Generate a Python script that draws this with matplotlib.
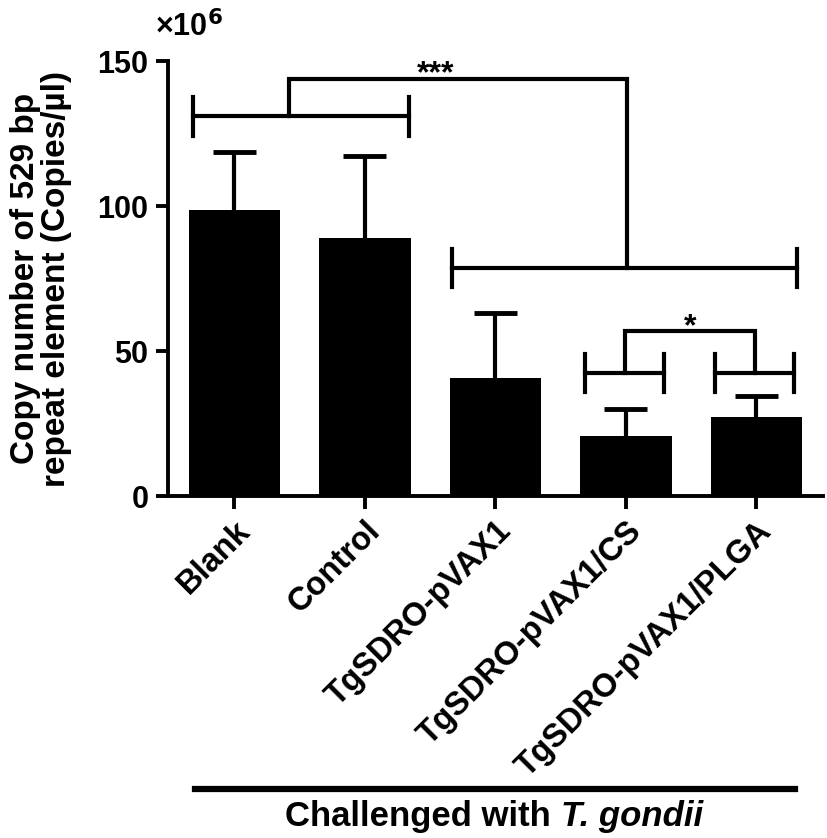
import matplotlib
matplotlib.use("Agg")
import matplotlib.pyplot as plt

# values in units of 1e6 copies/ul
groups = ["Blank", "Control", "TgSDRO-pVAX1", "TgSDRO-pVAX1/CS", "TgSDRO-pVAX1/PLGA"]
means = [98.8, 89.0, 40.6, 20.6, 27.2]
errors = [19.8, 28.3, 22.4, 9.4, 7.3]
yticks = [0, 50, 100, 150]

plt.rcParams["font.family"] = ["Liberation Sans", "DejaVu Sans"]
plt.rcParams["font.weight"] = "bold"

fig = plt.figure(figsize=(8.27, 8.38), dpi=100)
ax = fig.add_axes([0.203, 0.408, 0.792, 0.519])

x = list(range(len(groups)))
tops = [m + e for m, e in zip(means, errors)]
ax.vlines(x, means, tops, color="black", lw=3, zorder=1)
ax.hlines(tops, [i - 0.165 for i in x], [i + 0.165 for i in x], color="black", lw=3.5, zorder=1)
ax.bar(x, means, width=0.7, color="black", zorder=2)

ax.set_xlim(-0.51, 4.51)
ax.set_ylim(0, 150)
ax.set_yticks(yticks)
ax.set_xticks(x)
ax.set_xticklabels(groups, rotation=45, ha="right", rotation_mode="anchor",
                   fontsize=23.5, fontweight="bold")
for lab in ax.get_yticklabels():
    lab.set_fontsize(22)
    lab.set_fontweight("bold")

ax.spines["top"].set_visible(False)
ax.spines["right"].set_visible(False)
ax.spines["left"].set_linewidth(2.8)
ax.spines["bottom"].set_linewidth(2.8)
ax.tick_params(axis="both", width=2.8, length=9, direction="out", pad=5)

ax.set_ylabel("Copy number of 529 bp\nrepeat element (Copies/µl)",
              fontsize=24, fontweight="bold", labelpad=18, linespacing=1.0)
fig.text(0.187, 0.956, r"×10$^{\mathbf{6}}$", fontsize=22, fontweight="bold",
         ha="left", va="baseline")

lw = 3
def hbar(x0, x1, y, tick):
    ax.plot([x0, x1], [y, y], color="black", lw=lw, clip_on=False)
    for xx in (x0, x1):
        ax.plot([xx, xx], [y - tick, y + tick], color="black", lw=lw, clip_on=False)

# *** bracket
hbar(-0.32, 1.34, 131, 6.8)
hbar(1.67, 4.31, 78.6, 6.6)
ax.plot([0.42, 0.42, 3.01, 3.01], [131, 144, 144, 78.6], color="black", lw=lw,
        solid_joinstyle="miter", clip_on=False)
ax.text(1.545, 142.6, "***", ha="center", va="baseline", fontsize=23, fontweight="bold")

# * bracket
hbar(2.69, 3.29, 42.4, 6.6)
hbar(3.68, 4.29, 42.4, 6.6)
ax.plot([2.99, 2.99, 3.99, 3.99], [42.4, 56.9, 56.9, 42.4], color="black", lw=lw,
        solid_joinstyle="miter", clip_on=False)
ax.text(3.49, 55.6, "*", ha="center", va="baseline", fontsize=23, fontweight="bold")

# bottom group line
ax.plot([-0.30, 4.30], [-101, -101], color="black", lw=4.5, clip_on=False)
ax.text(2.50, -110.5, "Challenged with ", ha="right", va="center", fontsize=25,
        fontweight="bold")
ax.text(2.50, -110.5, "T. gondii", ha="left", va="center", fontsize=25,
        fontweight="bold", fontstyle="italic")

fig.savefig("out.png", dpi=100)
